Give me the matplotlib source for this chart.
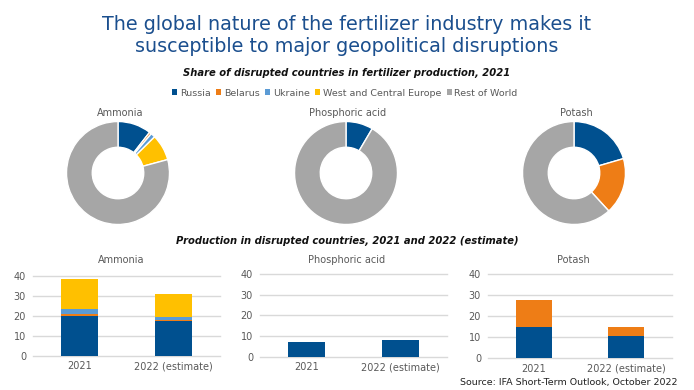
import matplotlib
matplotlib.use("Agg")
import matplotlib.pyplot as plt
from matplotlib.patches import Patch

# data
products = ["Ammonia", "Phosphoric acid", "Potash"]
series = ["Russia", "Belarus", "Ukraine", "West and Central Europe", "Rest of World"]
colors = ["#00508F", "#EE7D16", "#5B9BD5", "#FFC000", "#A6A6A6"]

# share of 2021 production (%), order as in series
share_ammonia = [10.5, 0.7, 1.4, 8.2, 79.2]
share_phosphoric = [8.5, 0.0, 0.0, 0.0, 91.5]
share_potash = [20.5, 17.7, 0.0, 0.0, 61.8]

# production (Mt) in disrupted countries
years = ["2021", "2022 (estimate)"]
ammonia_russia = [19.7, 17.2]
ammonia_belarus = [1.3, 0.6]
ammonia_ukraine = [2.5, 1.5]
ammonia_wce = [14.8, 11.7]
phosphoric_russia = [7.3, 8.0]
phosphoric_other = [0.0, 0.1]
potash_russia = [14.8, 10.6]
potash_belarus = [13.1, 4.2]

W, H = 694, 390
fig = plt.figure(figsize=(W / 100, H / 100), dpi=100)
plt.rcParams["font.family"] = ["DejaVu Sans"]


def box(x0, y0, x1, y1):
    return [x0 / W, 1 - y1 / H, (x1 - x0) / W, (y1 - y0) / H]


def fx(x):
    return x / W


def fy(y):
    return 1 - y / H


title_col = "#1B4F8E"
grey = "#595959"

fig.text(fx(347), fy(24), "The global nature of the fertilizer industry makes it",
         ha="center", va="center", fontsize=13.8, color=title_col)
fig.text(fx(347), fy(47), "susceptible to major geopolitical disruptions",
         ha="center", va="center", fontsize=13.8, color=title_col)
fig.text(fx(347), fy(73), "Share of disrupted countries in fertilizer production, 2021",
         ha="center", va="center", fontsize=7.2, fontweight="bold", style="italic", color="#111111")
fig.text(fx(347), fy(241), "Production in disrupted countries, 2021 and 2022 (estimate)",
         ha="center", va="center", fontsize=7.2, fontweight="bold", style="italic", color="#111111")

handles = [Patch(facecolor=c, edgecolor="none", label=s) for c, s in zip(colors, series)]
fig.legend(handles=handles, loc="center", bbox_to_anchor=(fx(345), fy(93)), ncol=5,
           frameon=False, fontsize=6.8, handlelength=0.5, handleheight=0.5,
           handletextpad=0.3, columnspacing=0.6, labelcolor=grey)

# donuts
pie_centers = [118, 346, 574]
shares = [share_ammonia, share_phosphoric, share_potash]
r = 52
for cx, name, vals in zip(pie_centers, products, shares):
    ax = fig.add_axes(box(cx - r, 173 - r, cx + r, 173 + r))
    vv = [v for v in vals if v > 0]
    cc = [c for v, c in zip(vals, colors) if v > 0]
    ax.pie(vv, colors=cc, startangle=90, counterclock=False, radius=1,
           wedgeprops=dict(width=0.5, edgecolor="white", linewidth=1))
    ax.set_xlim(-1.01, 1.01)
    ax.set_ylim(-1.01, 1.01)
    ax.set_aspect("equal")
    fig.text(fx(cx + 2), fy(113), name, ha="center", va="center", fontsize=7, color=grey)

# bars
bar_boxes = [(33, 275.7, 220, 355.7), (260, 274, 447, 356.7), (488, 274.3, 672, 358.3)]
bar_titles_x = [121, 347, 573]
stacks = [
    [(ammonia_russia, colors[0]), (ammonia_belarus, colors[1]),
     (ammonia_ukraine, colors[2]), (ammonia_wce, colors[3])],
    [(phosphoric_russia, colors[0]), (phosphoric_other, colors[3])],
    [(potash_russia, colors[0]), (potash_belarus, colors[1])],
]
for b, tx, name, stack in zip(bar_boxes, bar_titles_x, products, stacks):
    ax = fig.add_axes(box(*b))
    bottom = [0, 0]
    for vals, c in stack:
        ax.bar([0, 1], vals, bottom=bottom, width=0.4, color=c, zorder=3)
        bottom = [a + v for a, v in zip(bottom, vals)]
    ax.set_xlim(-0.5, 1.5)
    ax.set_ylim(0, 40)
    ax.set_yticks([0, 10, 20, 30, 40])
    ax.set_xticks([0, 1])
    ax.set_xticklabels(years)
    ax.yaxis.grid(True, color="#D9D9D9", lw=1, zorder=0)
    for g in ax.get_ygridlines():
        g.set_clip_on(False)
    for s in ax.spines.values():
        s.set_visible(False)
    ax.tick_params(length=0, labelsize=7, labelcolor=grey)
    ax.tick_params(axis="y", pad=5)
    ax.tick_params(axis="x", pad=4)
    fig.text(fx(tx), fy(260), name, ha="center", va="center", fontsize=7, color=grey)

fig.text(fx(678), fy(382), "Source: IFA Short-Term Outlook, October 2022",
         ha="right", va="center", fontsize=6.8, color="#222222")

fig.savefig("out.png", dpi=100)
